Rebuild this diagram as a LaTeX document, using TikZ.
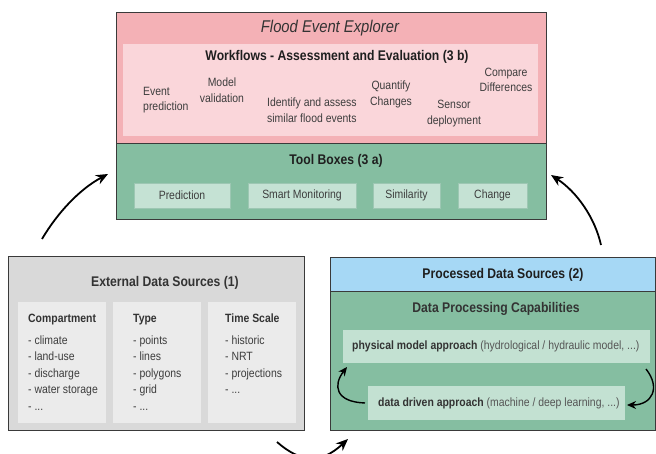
\documentclass[tikz,border=0pt]{standalone}
\usepackage{fontspec}
\setmainfont{Liberation Sans}[FakeStretch=0.87]
\usetikzlibrary{arrows.meta}
\definecolor{framecol}{HTML}{3A3A3A}
\definecolor{pinkout}{HTML}{F4B1B6}
\definecolor{pinkin}{HTML}{FAD6DA}
\definecolor{greenbg}{HTML}{85BEA1}
\definecolor{toolin}{HTML}{C5E2D4}
\definecolor{toolborder}{HTML}{9DC7B3}
\definecolor{bluebg}{HTML}{A6D8F5}
\definecolor{grayout}{HTML}{D9D9D9}
\definecolor{grayin}{HTML}{EBEBEB}
\definecolor{procin}{HTML}{C3E1D2}
\definecolor{hdrcol}{HTML}{1F1F1F}
\definecolor{titlecol}{HTML}{333333}
\definecolor{bodycol}{HTML}{3D3D3D}
\definecolor{softcol}{HTML}{555555}
\tikzset{
  frame/.style={draw=framecol, line width=0.9pt, inner sep=0pt, outer sep=0pt},
  inbox/.style={inner sep=0pt, outer sep=0pt},
  hdr/.style={font=\fontsize{14}{16}\selectfont\bfseries, text=hdrcol, inner sep=0pt},
  body/.style={font=\fontsize{12}{15.5}\selectfont, text=bodycol, inner sep=0pt},
  colhdr/.style={font=\fontsize{12}{15}\selectfont\bfseries, text=titlecol, inner sep=0pt, anchor=west,
                 text height=8.6pt, text depth=2.4pt},
  item/.style={body, anchor=west, text height=8.6pt, text depth=2.4pt},
  tool/.style={draw=toolborder, line width=0.8pt, fill=toolin, inner sep=0pt, minimum height=25pt,
               font=\fontsize{12}{14}\selectfont, text=bodycol},
  bigarrow/.style={line width=1.8pt, -{Stealth[length=12pt,width=10pt]}},
  smallarrow/.style={line width=1.4pt, -{Stealth[length=9pt,width=8pt]}},
}
\begin{document}
\begin{tikzpicture}[x=1pt,y=-1pt]
\clip (0,0) rectangle (656,454);
\fill[white] (0,0) rectangle (656,454);

% ---------- Flood Event Explorer ----------
\node[frame, fill=pinkout, minimum width=430pt, minimum height=131pt] (fee) at (331,77.5) {};
\node[inbox, fill=pinkin, minimum width=415pt, minimum height=92pt] (wf) at (330.5,90) {};
\node[font=\fontsize{17}{20}\selectfont\itshape, text=titlecol, inner sep=0pt] (feet) at (330,28) {Flood Event Explorer};
\node[hdr] (wft) at (337,57) {Workflows - Assessment and Evaluation (3 b)};
\node[body, align=left, anchor=west] (w1) at (143,100) {Event\\prediction};
\node[body, align=center] (w2) at (222,90) {Model\\validation};
\node[body, align=left, anchor=west] (w3) at (267,110) {Identify and assess\\similar flood events};
\node[body, align=center] (w4) at (391,94.5) {Quantify\\Changes};
\node[body, align=center] (w5) at (454,113.5) {Sensor\\deployment};
\node[body, align=center] (w6) at (506,80) {Compare\\Differences};

% ---------- Tool Boxes ----------
\node[frame, fill=greenbg, minimum width=430pt, minimum height=76pt] (tb) at (331,181) {};
\node[hdr] (tbt) at (336,161) {Tool Boxes (3 a)};
\node[tool, minimum width=96pt] (tpred) at (182,195.5) {Prediction};
\node[tool, minimum width=108pt] (tsmart) at (302,195.5) {Smart Monitoring};
\node[tool, minimum width=67pt] (tsim) at (406.5,195.5) {Similarity};
\node[tool, minimum width=69pt] (tchg) at (492.5,195.5) {Change};

% ---------- External Data Sources ----------
\node[frame, fill=grayout, minimum width=296pt, minimum height=174pt] (ext) at (156,343) {};
\node[hdr, text=titlecol] (extt) at (165,283) {External Data Sources (1)};
\node[inbox, fill=grayin, minimum width=88pt, minimum height=121pt] (col1) at (62,362.5) {};
\node[inbox, fill=grayin, minimum width=88pt, minimum height=121pt] (col2) at (157,362.5) {};
\node[inbox, fill=grayin, minimum width=88pt, minimum height=121pt] (col3) at (252,362.5) {};

\node[colhdr] (h1) at (28,319) {Compartment};
\node[item] (a1) at (28,341) {- climate};
\node[item] (a2) at (28,357.5) {- land-use};
\node[item] (a3) at (28,374) {- discharge};
\node[item] (a4) at (28,390.5) {- water storage};
\node[item] (a5) at (28,407) {- ...};

\node[colhdr] (h2) at (133,319) {Type};
\node[item] (b1) at (133,341) {- points};
\node[item] (b2) at (133,357.5) {- lines};
\node[item] (b3) at (133,374) {- polygons};
\node[item] (b4) at (133,390.5) {- grid};
\node[item] (b5) at (133,407) {- ...};

\node[colhdr] (h3) at (225,319) {Time Scale};
\node[item] (c1) at (225,341) {- historic};
\node[item] (c2) at (225,357.5) {- NRT};
\node[item] (c3) at (225,374) {- projections};
\node[item] (c4) at (225,390.5) {- ...};

% ---------- Processed Data Sources ----------
\node[frame, fill=bluebg, minimum width=325pt, minimum height=34pt] (pds) at (492.5,274) {};
\node[frame, fill=greenbg, minimum width=325pt, minimum height=139pt] (dpc) at (492.5,360.5) {};
\node[hdr] (pdst) at (503,275) {Processed Data Sources (2)};
\node[hdr, text=titlecol] (dpct) at (496,309) {Data Processing Capabilities};
\node[inbox, fill=procin, minimum width=307pt, minimum height=33pt] (phys) at (496.5,346.5) {};
\node[inbox, fill=procin, minimum width=257pt, minimum height=34pt] (dd) at (496.5,403) {};
\node[body, anchor=west] (physt) at (352,346.5) {\textbf{\color{titlecol}physical model approach} {\color{softcol}(hydrological / hydraulic model, ...)}};
\node[body, anchor=west] (ddt) at (378,403) {\textbf{\color{titlecol}data driven approach} {\color{softcol}(machine / deep learning, ...)}};

% small cycle arrows
\coordinate (la) at (365,403);
\coordinate (lb) at (347,367);
\draw[smallarrow] (la) .. controls (335,402) and (333,385) .. (lb);
\coordinate (ra) at (646,369);
\coordinate (rb) at (627,405);
\draw[smallarrow] (ra) .. controls (661,388) and (652,405) .. (rb);

% big arrows
\coordinate (p1) at (42,239);
\coordinate (p2) at (108,174);
\draw[bigarrow] (p1) .. controls (58,212) and (80,189) .. (p2);
\coordinate (q1) at (601,245);
\coordinate (q2) at (551,175);
\draw[bigarrow] (q1) .. controls (595,218) and (577,192) .. (q2);
\coordinate (r1) at (277,442);
\coordinate (r2) at (348,439);
\draw[bigarrow] (r1) .. controls (300,462) and (320,465) .. (r2);
\end{tikzpicture}
\end{document}
